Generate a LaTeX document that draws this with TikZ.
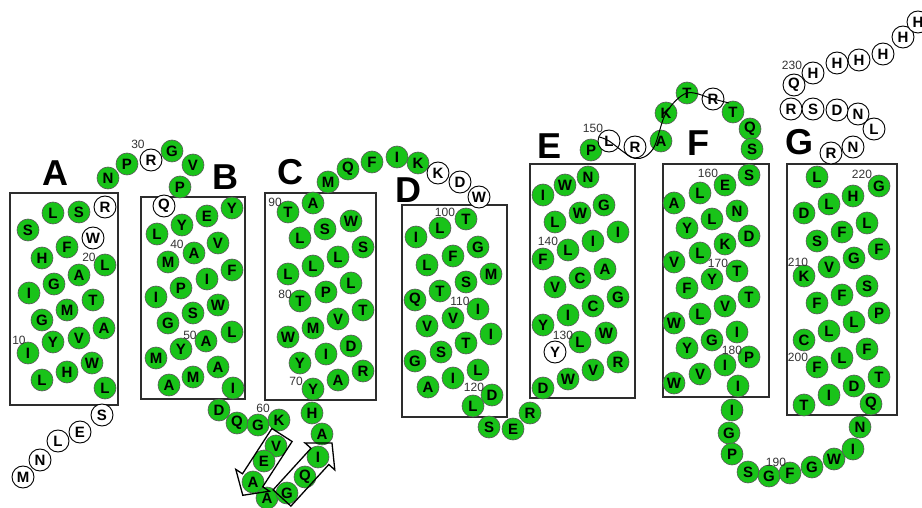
\documentclass[tikz,border=0pt]{standalone}
\usepackage{fontspec}
\setmainfont{Liberation Sans}
\definecolor{resgreen}{RGB}{25,195,25}
\definecolor{boxgray}{RGB}{45,45,45}
\tikzset{
 res/.style={circle, minimum size=22pt, inner sep=0pt, font=\fontsize{15}{15}\selectfont\bfseries},
 gr/.style={res, fill=resgreen, draw=black!65, line width=0.6pt},
 wh/.style={res, fill=white, draw=black, line width=0.9pt},
 tmbox/.style={draw=boxgray, line width=1.5pt},
 helixlabel/.style={font=\fontsize{36}{36}\selectfont\bfseries, inner sep=0pt},
 numlabel/.style={font=\fontsize{12}{12}\selectfont, text=black!80, inner sep=0pt},
 strand/.style={draw=black, line width=1.3pt, line join=miter},
 loopline/.style={draw=black, line width=1pt},
}
\begin{document}
\begin{tikzpicture}[x=1pt,y=-1pt]
\useasboundingbox (0,0) rectangle (922,508);
% helix boxes
\draw[tmbox] (10,193) rectangle (118,405);
\draw[tmbox] (141,197) rectangle (245,399);
\draw[tmbox] (265,193) rectangle (376,400);
\draw[tmbox] (402,205) rectangle (507,417);
\draw[tmbox] (530,164) rectangle (635,398);
\draw[tmbox] (663,164) rectangle (769,397);
\draw[tmbox] (787,164) rectangle (897,415);
% helix labels
\foreach \x/\y/\t [count=\i] in {55/173/A,225/177/B,290/172/C,408/190/D,550/146/E,698/143/F,799/142/G}
  \node[helixlabel] (h\i) at (\x,\y) {\t};
% green residues
\foreach \x/\y/\t [count=\i] in {
 79/212/S,53/213/L,28/230/S,67/247/F,42/258/H,105/265/L,79/275/A,54/284/G,29/293/I,93/300/T,
 67/310/M,42/320/G,104/328/A,79/338/V,53/342/Y,28/353/I,92/363/W,67/372/H,42/380/L,105/388/L,
 108/178/N,127/164/P,172/151/G,193/165/V,180/187/P,
 232/208/Y,207/216/E,182/225/Y,157/234/L,218/243/V,194/253/A,168/262/M,232/270/F,207/279/I,181/288/P,
 156/297/I,218/305/W,193/313/S,168/323/G,232/332/L,206/341/A,181/349/Y,156/358/M,218/367/A,193/377/M,
 169/385/A,233/388/I,
 219/410/D,237/423/Q,258/425/G,279/420/K,276/446/V,264/461/E,253/482/A,267/498/A,287/493/G,305/477/Q,
 318/457/I,322/434/A,312/413/H,313/389/Y,
 338/380/A,363/371/R,300/363/Y,326/354/I,351/346/D,288/337/W,313/328/M,338/319/V,363/310/T,300/301/T,
 326/292/P,351/283/L,288/274/L,313/266/L,338/257/L,363/247/S,300/238/L,325/229/S,351/221/W,288/212/T,
 313/203/A,
 328/182/M,348/169/Q,372/162/F,397/157/I,418/163/K,
 466/219/T,440/228/L,416/237/I,478/247/G,453/256/F,427/265/L,491/274/M,466/282/S,440/291/T,415/300/Q,
 478/309/I,453/318/V,427/326/V,491/334/I,466/343/T,441/352/S,415/361/G,478/370/L,453/378/I,428/387/A,
 492/395/D,473/406/L,
 489/427/S,513/429/E,530/413/R,
 543/388/D,568/379/W,593/370/V,618/362/R,580/342/L,606/333/W,543/325/Y,568/315/I,593/306/C,618/297/G,
 555/287/V,580/278/C,605/269/A,543/259/F,568/250/L,593/241/I,618/232/I,555/222/L,580/213/W,604/205/G,
 543/195/I,565/185/W,588/177/N,591/150/P,
 733/112/T,750/129/Q,752/149/S,
 749/175/S,725/185/E,700/193/L,674/203/A,737/211/N,712/219/L,687/228/Y,749/236/D,725/244/K,700/253/L,
 674/262/V,737/271/T,712/279/Y,687/288/F,749/297/T,725/306/V,700/314/L,674/323/W,737/332/I,712/340/G,
 687/348/Y,749/357/P,725/365/I,700/374/V,674/383/W,738/386/I,
 732/410/I,729/433/G,732/454/P,748/472/S,769/476/G,790/473/F,812/467/G,834/459/W,853/449/I,860/427/N,
 871/404/Q,804/405/T,829/395/I,854/386/D,879/377/T,817/367/F,842/358/L,867/349/F,804/340/C,829/331/L,
 854/322/L,879/313/P,817/303/F,842/295/F,867/286/S,804/276/K,829/267/V,854/258/G,879/249/F,817/241/S,
 842/232/F,867/223/L,804/213/D,829/204/L,853/196/H,879/186/G,817/177/L}
  \node[gr] (g\i) at (\x,\y) {\t};
% white residues
\foreach \x/\y/\t [count=\i] in {
 23/477/M,40/460/N,58/441/L,80/432/E,102/415/S,
 105/207/R,93/238/W,151/160/R,164/206/Q,
 438/173/K,460/182/D,479/197/W,555/352/Y,
 831/153/R,853/147/N,874/129/L,858/114/N,837/110/D,813/109/S,791/109/R,794/85/Q,
 813/73/H,837/63/H,859/60/H,883/54/H,903/37/H,918/22/H}
  \node[wh] (w\i) at (\x,\y) {\t};
% loop E-F residues on the line
\node[wh] (lL) at (609,141) {L};
\node[wh] (lR) at (635,147) {R};
\node[gr] (lA) at (661,141) {A};
\node[gr] (lK) at (666,113) {K};
\node[gr] (lT) at (687,93) {T};
\node[wh] (lR2) at (713,99) {R};
\coordinate (cs) at (599,137);
\coordinate (ce) at (729,103);
\draw[loopline] plot[smooth, tension=0.55] coordinates {(cs) (lL.center) (lR.south) (lA.south west) (lK.center) (lT.center) (lR2.center) (ce)};
% beta strands
\draw[strand] (292.1,441.5) -- (262.7,486.8) -- (269.4,491.2) -- (242.8,495.3) -- (235.8,469.4) -- (242.5,473.8) -- (271.9,428.5) -- cycle;
\draw[strand] (290.9,506.1) -- (328.8,464.5) -- (334.8,469.9) -- (332,443) -- (305.0,442.9) -- (311.0,448.3) -- (273.1,489.9) -- cycle;
% numbering
\foreach \x/\y/\t in {19/340/10,89/257/20,138/144/30,177/244/40,190/335/50,263/408/60,296/381/70,285/294/80,
 275/202/90,445/212/100,460/301/110,474/387/120,563/335/130,548/241/140,593/128/150,708/173/160,
 718/263/170,732/350/180,776/462/190,798/357/200,798/262/210,862/174/220,792/65/230}
  \node[numlabel] (n\t) at (\x,\y) {\t};
\end{tikzpicture}
\end{document}
